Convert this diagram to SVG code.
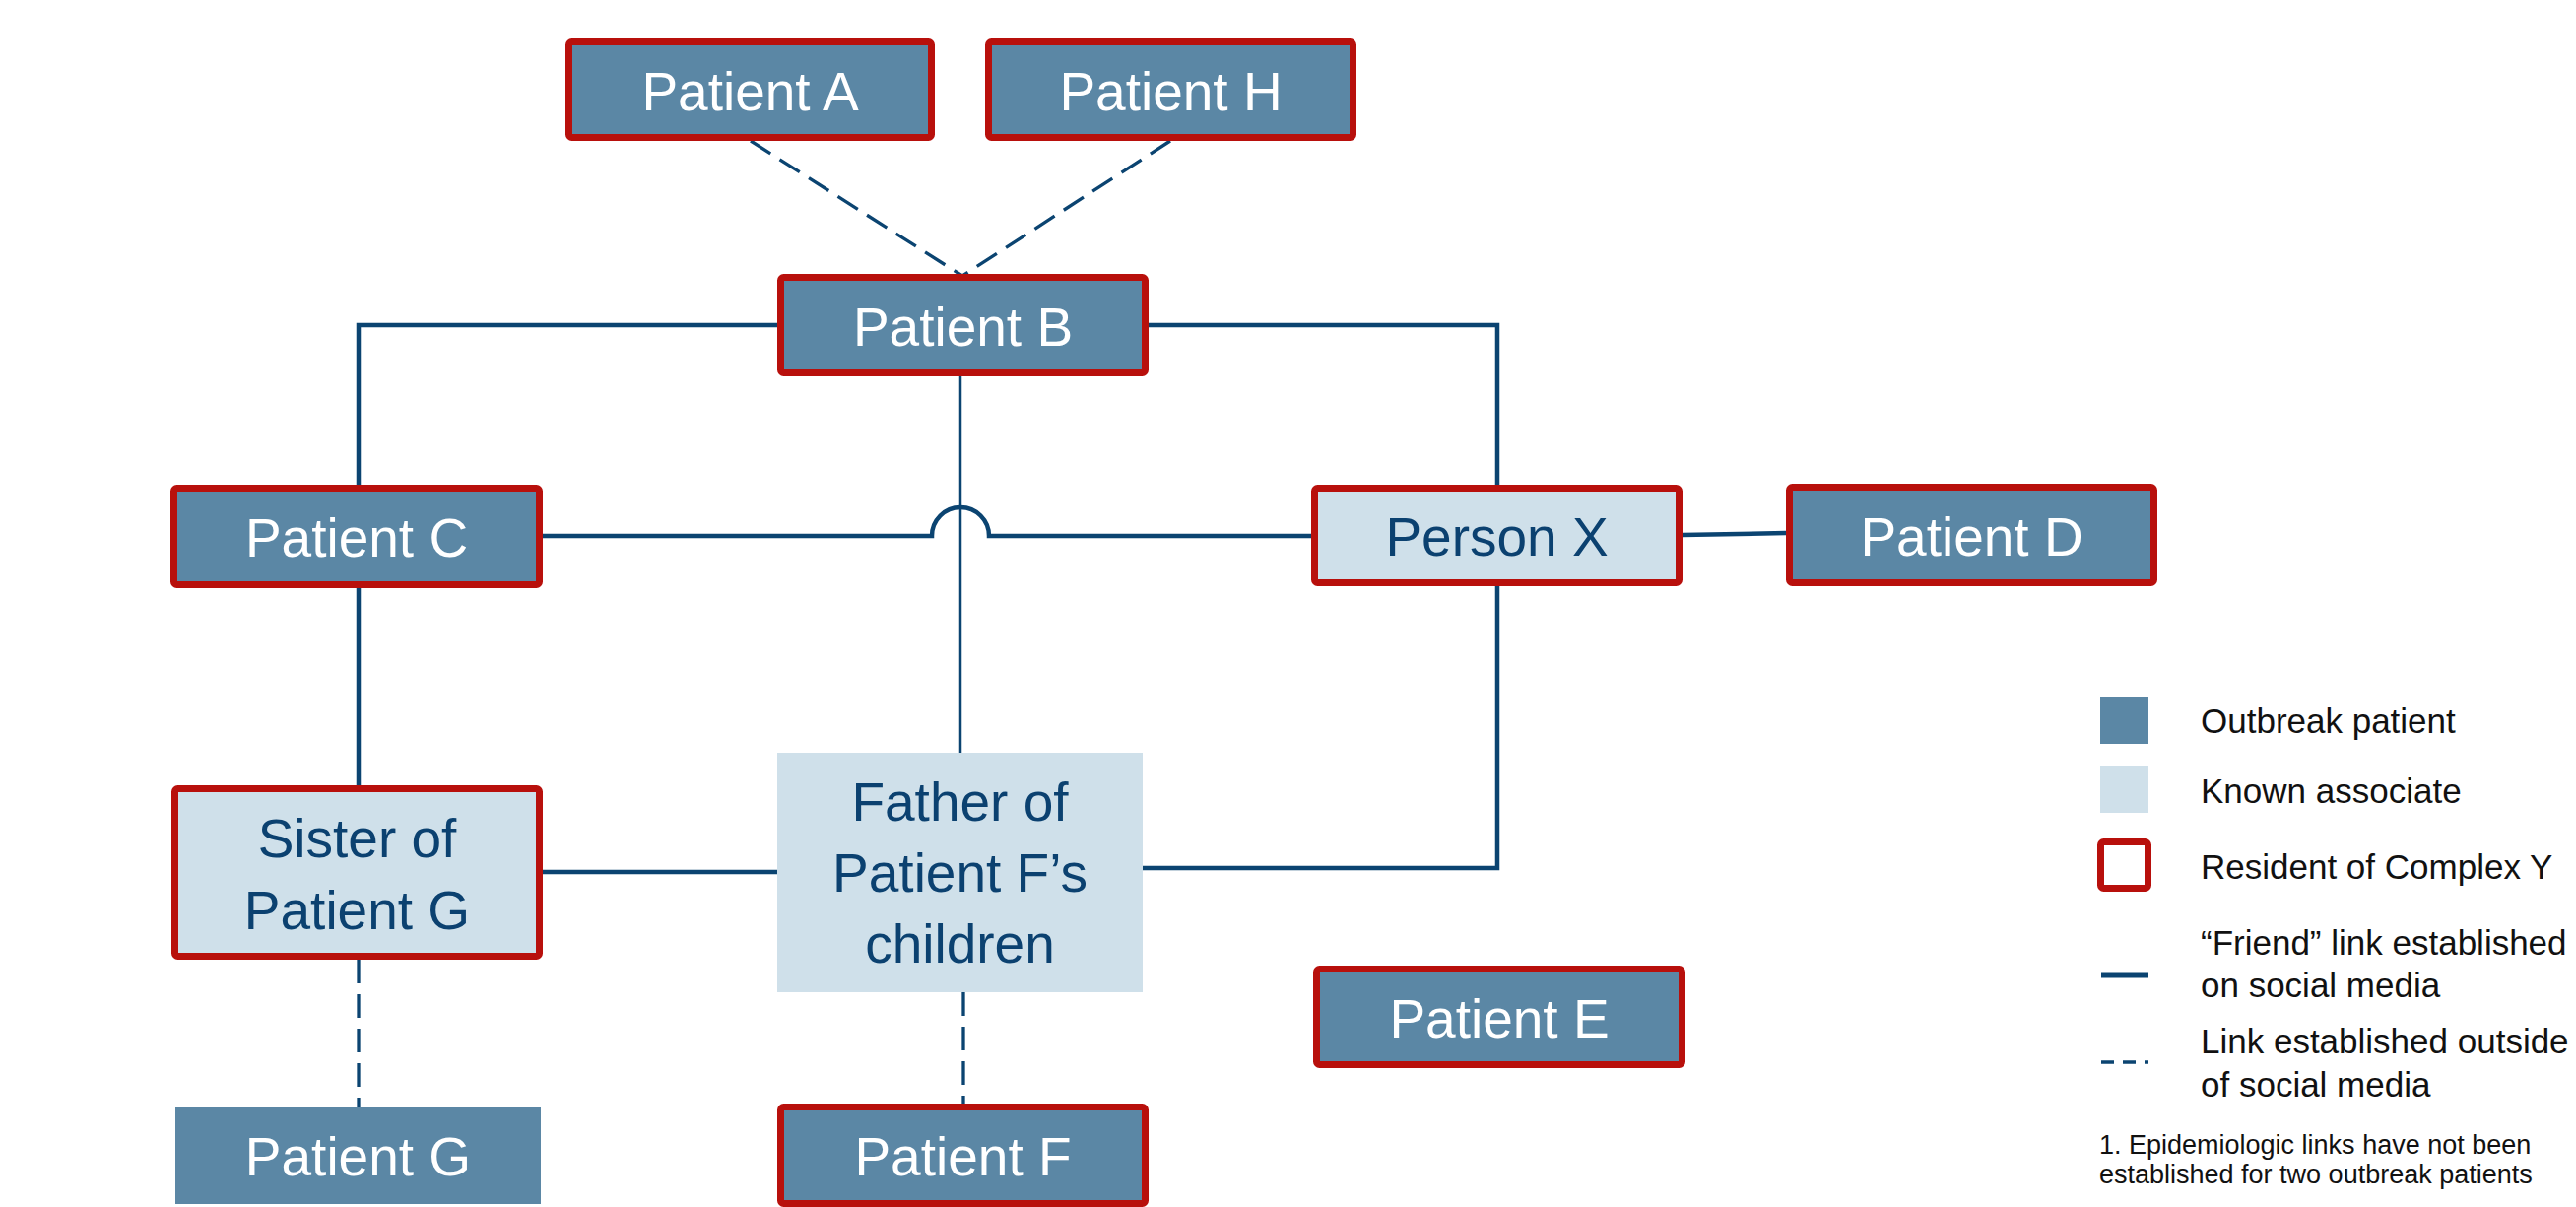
<svg xmlns="http://www.w3.org/2000/svg" width="2615" height="1225" viewBox="0 0 2615 1225">
<style>
.pat{fill:#5b87a5}
.asc{fill:#cfe0ea}
.res{stroke:#b8100c;stroke-width:7}
.lt{font-family:"Liberation Sans",Arial,sans-serif;font-size:55px;text-anchor:middle}
.w{fill:#ffffff}
.d{fill:#0b4170}
.ln{fill:none;stroke:#0b4471;stroke-width:4.5}
.thin{fill:none;stroke:#0b4471;stroke-width:2.5}
.ds{fill:none;stroke:#0b4471;stroke-width:3.3;stroke-dasharray:24 11}
.lg{font-family:"Liberation Sans",Arial,sans-serif;font-size:35px;fill:#111111}
.fn{font-family:"Liberation Sans",Arial,sans-serif;font-size:27px;fill:#111111}
</style>
<rect width="2615" height="1225" fill="#ffffff"/>
<g id="connectors">
<path class="ln" d="M789,330 H364 V492"/>
<path class="ln" d="M1166,330 H1520 V492"/>
<path class="ln" d="M551,544 H946 A29,29 0 0 1 1004,544 H1331"/>
<path class="ln" d="M1708,543 L1813,541"/>
<path class="thin" d="M975,382 V764"/>
<path class="ln" d="M364,597 V797"/>
<path class="ln" d="M551,885 H789"/>
<path class="ln" d="M1160,881 H1520 V595"/>
<path class="ds" d="M762,143 L977,280"/>
<path class="ds" d="M1188,143 L977,280"/>
<path class="ds" d="M364,974 V1124"/>
<path class="ds" d="M978,1007 V1120"/>
</g>
<g id="patientA"><rect class="pat res" x="577.5" y="42.5" width="368" height="97" rx="3"/><text class="lt w" x="761.5" y="112">Patient A</text></g>
<g id="patientH"><rect class="pat res" x="1003.5" y="42.5" width="370" height="97" rx="3"/><text class="lt w" x="1188.5" y="112">Patient H</text></g>
<g id="patientB"><rect class="pat res" x="792.5" y="281.5" width="370" height="97" rx="3"/><text class="lt w" x="977.5" y="351">Patient B</text></g>
<g id="patientC"><rect class="pat res" x="176.5" y="495.5" width="371" height="98" rx="3"/><text class="lt w" x="362" y="565">Patient C</text></g>
<g id="personX"><rect class="asc res" x="1334.5" y="495.5" width="370" height="96" rx="3"/><text class="lt d" x="1519.5" y="564">Person X</text></g>
<g id="patientD"><rect class="pat res" x="1816.5" y="494.5" width="370" height="97" rx="3"/><text class="lt w" x="2001.5" y="564">Patient D</text></g>
<g id="sisterG"><rect class="asc res" x="177.5" y="800.5" width="370" height="170" rx="3"/><text class="lt d" x="362.5" y="870">Sister of</text><text class="lt d" x="362.5" y="943">Patient G</text></g>
<g id="fatherF"><rect class="asc" x="789" y="764" width="371" height="243"/><text class="lt d" x="974.5" y="833">Father of</text><text class="lt d" x="974.5" y="905">Patient F’s</text><text class="lt d" x="974.5" y="977">children</text></g>
<g id="patientE"><rect class="pat res" x="1336.5" y="983.5" width="371" height="97" rx="3"/><text class="lt w" x="1522" y="1053">Patient E</text></g>
<g id="patientG"><rect class="pat" x="178" y="1124" width="371" height="98"/><text class="lt w" x="363.5" y="1193">Patient G</text></g>
<g id="patientF"><rect class="pat res" x="792.5" y="1123.5" width="370" height="98" rx="3"/><text class="lt w" x="977.5" y="1193">Patient F</text></g>
<g id="legend">
<rect class="pat" x="2132" y="707" width="49" height="48"/>
<text class="lg" x="2234" y="744">Outbreak patient</text>
<rect class="asc" x="2132" y="777" width="49" height="48"/>
<text class="lg" x="2234" y="815">Known associate</text>
<rect x="2132.5" y="854.5" width="48" height="47" rx="3" fill="#ffffff" stroke="#b8100c" stroke-width="7"/>
<text class="lg" x="2234" y="892">Resident of Complex Y</text>
<path d="M2133,990 H2181" stroke="#0b4471" stroke-width="5" fill="none"/>
<text class="lg" x="2234" y="969">“Friend” link established</text>
<text class="lg" x="2234" y="1012">on social media</text>
<path d="M2133,1078 H2181" stroke="#0b4471" stroke-width="3.5" fill="none" stroke-dasharray="13 9"/>
<text class="lg" x="2234" y="1069">Link established outside</text>
<text class="lg" x="2234" y="1113">of social media</text>
<text class="fn" x="2131" y="1171">1. Epidemiologic links have not been</text>
<text class="fn" x="2131" y="1201">established for two outbreak patients</text>
</g>
</svg>
